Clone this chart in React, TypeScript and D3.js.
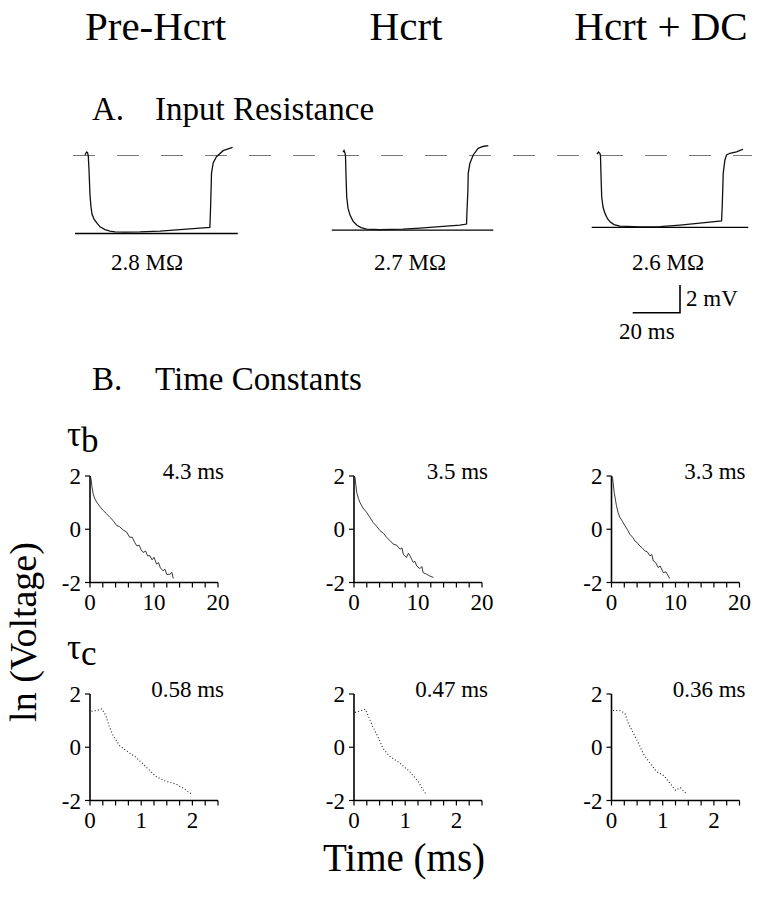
import React from "react";
import * as d3 from "d3";

// ---------- DATA ----------
const conditions = ["Pre-Hcrt", "Hcrt", "Hcrt + DC"];
const resistances = ["2.8 MΩ", "2.7 MΩ", "2.6 MΩ"];
const tauB = ["4.3 ms", "3.5 ms", "3.3 ms"];
const tauC = ["0.58 ms", "0.47 ms", "0.36 ms"];

// Section A: voltage traces (time in ms from pulse onset, voltage in mV from rest)
const traceT1 = [-1.39, -0.76, -0.34, 0, 0.3, 0.72, 1.14, 1.56, 2.41, 3.68, 4.94, 7.06, 9.17, 11.3, 15.5, 21.8, 30.3, 38.7, 47.2, 51.4, 51.6, 51.8, 52.1, 52.8, 54.2, 57.0, 61.0];
const traceV1 = [0.04, 0.25, 0.22, -0.04, -1.05, -2.86, -3.72, -4.23, -4.59, -4.88, -5.15, -5.35, -5.46, -5.52, -5.53, -5.52, -5.46, -5.35, -5.24, -5.19, -4.3, -3.22, -1.27, -0.54, -0.09, 0.35, 0.59];
const traceT2 = [-0.85, -0.42, 0, 0.21, 0.42, 0.72, 1.27, 2.11, 3.38, 4.94, 6.76, 9.17, 14.79, 24.5, 31.7, 40.1, 48.6, 51.4, 51.6, 51.97, 52.1, 52.8, 54.2, 56.3, 58.3, 60.6];
const traceV2 = [0.25, 0.36, 0.18, -0.04, -1.41, -2.98, -3.8, -4.3, -4.74, -5.02, -5.2, -5.31, -5.35, -5.31, -5.24, -5.13, -5.02, -4.95, -3.94, -2.49, -1.29, -0.57, 0.04, 0.52, 0.65, 0.72];
const traceT3 = [-1.27, -0.63, 0, 0.21, 0.42, 0.72, 1.27, 2.11, 3.17, 4.23, 5.91, 8.45, 16.9, 25.35, 33.8, 42.2, 51.4, 51.7, 51.9, 52.1, 52.8, 53.5, 54.9, 57.7, 59.8, 60.5];
const traceV3 = [0.11, 0.25, 0.14, -0.04, -1.41, -2.98, -3.72, -4.18, -4.56, -4.79, -4.99, -5.1, -5.15, -5.14, -5.03, -4.89, -4.72, -3.58, -2.49, -1.29, -0.33, 0.04, 0.16, 0.27, 0.4, 0.45];
const floorLevels = [-5.63, -5.39, -5.19]; // mV of the solid reference lines
const floorStart = [-5.6, -5.6, -3.5];
const floorEnd = [63.2, 62.7, 62.7];

// Section B: ln(voltage) vs time
const tbT1 = [0, 0.16, 0.3, 0.5, 0.75, 1.04, 1.5, 2.08, 2.6, 3.1, 3.6, 4.16, 4.6, 5.2, 5.7, 6.2, 6.6, 7.0, 7.3, 7.7, 8.0, 8.3, 8.7, 9.0, 9.35, 9.7, 10.0, 10.4, 10.7, 11.0, 11.4, 11.7, 12.0, 12.5, 12.8, 13.0];
const tbV1 = [2.0, 1.9, 1.6, 1.33, 1.15, 1.02, 0.87, 0.7, 0.58, 0.45, 0.33, 0.14, 0.1, -0.03, -0.1, -0.3, -0.3, -0.5, -0.62, -0.6, -0.78, -0.87, -0.82, -1.0, -0.99, -1.15, -1.05, -1.31, -1.25, -1.45, -1.56, -1.5, -1.7, -1.69, -1.62, -1.85];
const tbT2 = [0, 0.16, 0.42, 0.7, 0.94, 1.4, 1.98, 2.5, 3.0, 3.5, 4.06, 4.6, 5.1, 5.6, 6.15, 6.67, 7.2, 7.5, 7.7, 8.2, 8.5, 8.75, 9.27, 9.5, 9.8, 10.3, 10.6, 10.8, 11.35, 11.8, 12.4];
const tbV2 = [2.0, 1.94, 1.38, 1.15, 1.0, 0.8, 0.63, 0.44, 0.25, 0.12, -0.05, -0.15, -0.31, -0.42, -0.56, -0.6, -0.75, -0.7, -0.94, -1.06, -0.9, -1.0, -1.25, -1.2, -1.38, -1.48, -1.4, -1.63, -1.69, -1.75, -1.81];
const tbT3 = [0, 0.16, 0.42, 0.78, 1.0, 1.3, 1.7, 2.09, 2.5, 2.87, 3.3, 3.66, 4.0, 4.44, 4.8, 5.2, 5.6, 6.0, 6.3, 6.53, 6.9, 7.3, 7.6, 8.1, 8.5, 9.1];
const tbV3 = [2.0, 1.94, 1.38, 0.88, 0.65, 0.45, 0.3, 0.14, -0.02, -0.19, -0.3, -0.44, -0.5, -0.63, -0.7, -0.81, -0.85, -1.0, -0.95, -1.19, -1.25, -1.44, -1.38, -1.63, -1.6, -1.85];

const tcT1 = [0.03, 0.13, 0.23, 0.31, 0.37, 0.45, 0.58, 0.71, 0.9, 1.1, 1.29, 1.48, 1.68, 1.84, 2.0];
const tcV1 = [1.35, 1.38, 1.44, 1.19, 0.81, 0.44, 0.06, -0.13, -0.38, -0.75, -1.1, -1.28, -1.38, -1.56, -1.78];
const tcT2 = [0.02, 0.13, 0.22, 0.28, 0.36, 0.46, 0.56, 0.69, 0.89, 1.08, 1.25, 1.41];
const tcV2 = [1.31, 1.37, 1.43, 1.18, 0.8, 0.42, -0.02, -0.33, -0.59, -0.9, -1.28, -1.78];
const tcT3 = [0.03, 0.16, 0.26, 0.33, 0.43, 0.53, 0.62, 0.76, 0.89, 1.02, 1.15, 1.25, 1.35, 1.45];
const tcV3 = [1.38, 1.38, 1.28, 0.89, 0.52, 0.14, -0.24, -0.62, -0.93, -1.06, -1.37, -1.62, -1.52, -1.72];

const yTicks = [-2, 0, 2];
const tbXTicks = d3.range(0, 20.01, 2);
const tbXLabels = [0, 10, 20];
const tcXTicks = d3.range(0, 2.501, 0.25);
const tcXLabels = [0, 1, 2];

// ---------- LAYOUT ----------
const W = 757;
const H = 900;
const FONT = "'Liberation Serif', 'Times New Roman', serif";

const onsetX = [88.3, 345, 600];
const restY = 155.5;
const panelX = [90, 354, 611.5];
const tbTop = 476;
const tbBottom = 582.5;
const tcTop = 694;
const tcBottom = 800.5;
const panelW = 128;
const SMALL = 23;

function T({ x, y, size, anchor = "start", children, rotate = 0 }: any) {
  const tr = `translate(${x},${y})${rotate ? ` rotate(${rotate})` : ""}`;
  return (
    <text transform={tr} fontFamily={FONT} fontSize={size} textAnchor={anchor} fill="#000">
      {children}
    </text>
  );
}

function zip(ts: number[], vs: number[]) {
  return ts.map((t, i) => [t, vs[i]] as [number, number]);
}

function DecayPanel({ x0, top, bottom, xMax, xTicks, xLabels, data, label, dotted }: any) {
  const xs = d3.scaleLinear().domain([0, xMax]).range([x0, x0 + panelW]);
  const ys = d3.scaleLinear().domain([-2, 2]).range([bottom, top]);
  const line = d3.line<[number, number]>().x((d) => xs(d[0])).y((d) => ys(d[1]));
  return (
    <g>
      <line x1={x0} x2={x0} y1={ys(2)} y2={ys(-2)} stroke="#000" strokeWidth={1.6} />
      <line x1={x0} x2={xs(xMax)} y1={ys(-2)} y2={ys(-2)} stroke="#000" strokeWidth={1.6} />
      {yTicks.map((v) => (
        <g key={"y" + v}>
          <line x1={x0 - 5} x2={x0} y1={ys(v)} y2={ys(v)} stroke="#000" strokeWidth={1.2} />
          <T x={x0 - 9} y={ys(v) + 8} size={SMALL} anchor="end">{v === -2 ? "-2" : String(v)}</T>
        </g>
      ))}
      {xTicks.map((v: number) => (
        <line key={"x" + v} x1={xs(v)} x2={xs(v)} y1={ys(-2)} y2={ys(-2) + 5} stroke="#000" strokeWidth={1.2} />
      ))}
      {xLabels.map((v: number) => (
        <T key={"xl" + v} x={xs(v)} y={ys(-2) + 27.5} size={SMALL} anchor="middle">{String(v)}</T>
      ))}
      <path
        d={line(data) || ""}
        fill="none"
        stroke="#222"
        strokeWidth={dotted ? 1.1 : 0.9}
        strokeDasharray={dotted ? "1 2.2" : undefined}
      />
      <T x={x0 + panelW + 6} y={top + 3} size={SMALL} anchor="end">{label}</T>
    </g>
  );
}

export default function App() {
  const xA = d3.scaleLinear().domain([0, 20]).range([0, 47.3]);
  const yA = d3.scaleLinear().domain([0, 2]).range([0, -27.7]);
  const lineA = d3.line<[number, number]>().x((d) => xA(d[0])).y((d) => yA(d[1]));
  const traces = [zip(traceT1, traceV1), zip(traceT2, traceV2), zip(traceT3, traceV3)];
  const tbData = [zip(tbT1, tbV1), zip(tbT2, tbV2), zip(tbT3, tbV3)];
  const tcData = [zip(tcT1, tcV1), zip(tcT2, tcV2), zip(tcT3, tcV3)];
  const headerX = [155.5, 406, 661];
  const resX = [147, 410, 668];

  const sbX = 632.7;
  const sbY = 312.7;

  return (
    <svg width={W} height={H} style={{ position: "absolute", left: 0, top: 0, background: "#fff" }}>
      <rect width={W} height={H} fill="#fff" />
      {conditions.map((c, i) => (
        <T key={c} x={headerX[i]} y={40} size={41} anchor="middle">{c}</T>
      ))}

      <T x={92} y={120} size={33}>A.</T>
      <T x={155} y={120} size={33}>Input Resistance</T>

      <line x1={73} x2={752} y1={restY} y2={restY} stroke="#777" strokeWidth={1.2} strokeDasharray="22 22" />

      {traces.map((tr, i) => (
        <g key={"tr" + i} transform={`translate(${onsetX[i]},${restY})`}>
          <line x1={xA(floorStart[i])} x2={xA(floorEnd[i])} y1={yA(floorLevels[i])} y2={yA(floorLevels[i])} stroke="#000" strokeWidth={1.3} />
          <path d={lineA(tr) || ""} fill="none" stroke="#111" strokeWidth={1.3} />
        </g>
      ))}
      {resistances.map((r, i) => (
        <T key={r} x={resX[i]} y={270} size={SMALL} anchor="middle">{r}</T>
      ))}

      {/* scale bar */}
      <g transform={`translate(${sbX},${sbY})`}>
        <path d={`M0,0H${xA(20)}V${yA(2)}`} fill="none" stroke="#000" strokeWidth={1.6} />
      </g>
      <T x={686} y={306} size={SMALL}>2 mV</T>
      <T x={619} y={339} size={SMALL}>20 ms</T>

      <T x={92} y={390} size={33}>B.</T>
      <T x={155} y={390} size={33}>Time Constants</T>

      <text transform="translate(67,446)" fontFamily={FONT} fontSize={35}>
        τ<tspan dy={6}>b</tspan>
      </text>
      <text transform="translate(67,659)" fontFamily={FONT} fontSize={35}>
        τ<tspan dy={6}>c</tspan>
      </text>

      {panelX.map((px, i) => (
        <DecayPanel key={"tb" + i} x0={px} top={tbTop} bottom={tbBottom} xMax={20} xTicks={tbXTicks} xLabels={tbXLabels} data={tbData[i]} label={tauB[i]} dotted={false} />
      ))}
      {panelX.map((px, i) => (
        <DecayPanel key={"tc" + i} x0={px} top={tcTop} bottom={tcBottom} xMax={2.5} xTicks={tcXTicks} xLabels={tcXLabels} data={tcData[i]} label={tauC[i]} dotted={true} />
      ))}

      <T x={36} y={632} size={38} anchor="middle" rotate={-90}>ln (Voltage)</T>
      <T x={404} y={871} size={39} anchor="middle">Time (ms)</T>
    </svg>
  );
}
